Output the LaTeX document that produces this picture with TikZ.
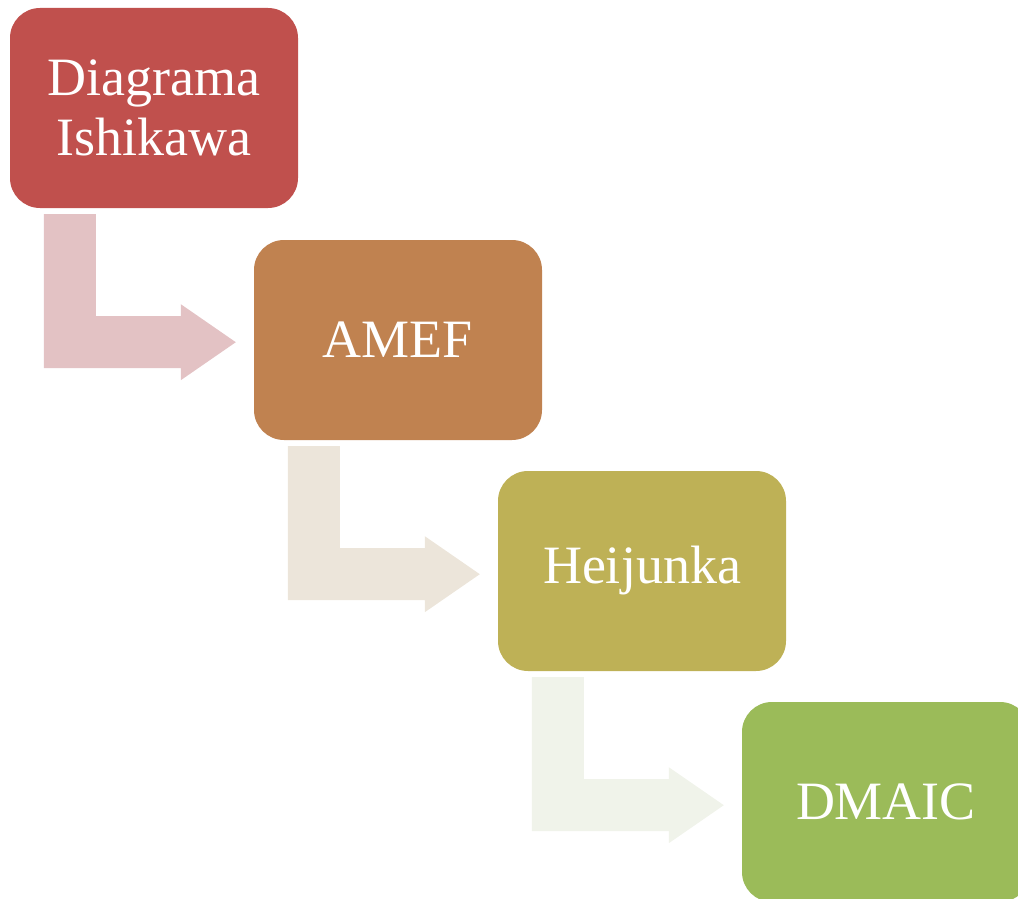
\documentclass[tikz,border=0pt]{standalone}
\usepackage{fontspec}
\setmainfont{Liberation Serif}
\usetikzlibrary{calc}
\definecolor{cA}{RGB}{192,80,77}
\definecolor{cB}{RGB}{192,130,80}
\definecolor{cC}{RGB}{190,177,86}
\definecolor{cD}{RGB}{155,187,89}
\definecolor{aA}{RGB}{227,194,196}
\definecolor{aB}{RGB}{236,229,218}
\definecolor{aC}{RGB}{240,243,234}
\tikzset{
  stepbox/.style={rounded corners=30pt, minimum width=288pt, minimum height=200pt,
    inner sep=0pt, text=white, align=center,
    font=\fontsize{54pt}{60pt}\selectfont},
}
\newcommand{\bentarrow}[2]{%
  \fill[#2] ($(#1)+(0,0)$) -- ++(52pt,0) -- ++(0,-102pt) -- ++(85pt,0)
    -- ++(0,12pt) -- ++(55pt,-38pt) -- ++(-55pt,-38pt) -- ++(0,12pt)
    -- ++(-137pt,0) -- cycle;}
\begin{document}
\begin{tikzpicture}[x=1pt,y=1pt]
\useasboundingbox[clip] (0,0) rectangle (1018,-899);
\node[stepbox, fill=cA] (b1) at (154,-108) {Diagrama\\Ishikawa};
\node[stepbox, fill=cB] (b2) at (398,-340) {AMEF};
\node[stepbox, fill=cC] (b3) at (642,-571) {Heijunka};
\node[stepbox, fill=cD] (b4) at (886,-802) {DMAIC};
\coordinate (a1) at ($(b1.south west)+(34,-6)$);
\coordinate (a2) at ($(b2.south west)+(34,-6)$);
\coordinate (a3) at ($(b3.south west)+(34,-6)$);
\bentarrow{a1}{aA}
\bentarrow{a2}{aB}
\bentarrow{a3}{aC}
\end{tikzpicture}
\end{document}
